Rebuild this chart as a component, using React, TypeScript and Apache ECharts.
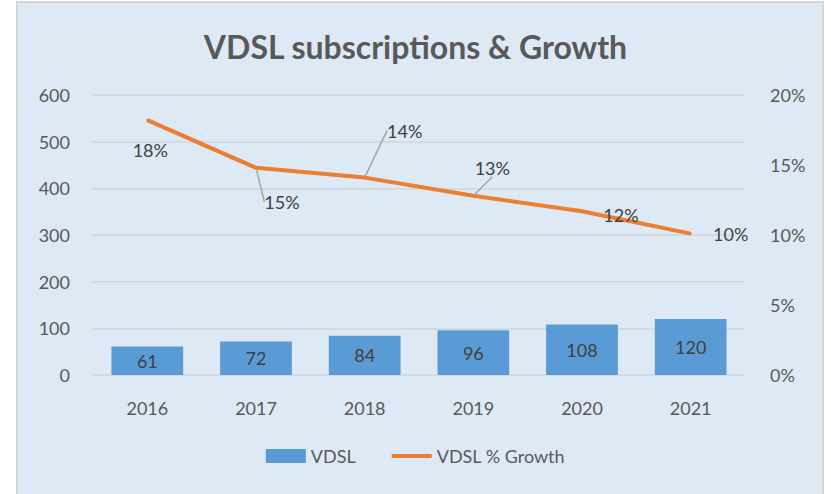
import React, { useEffect, useRef } from "react";
import * as echarts from "echarts";

const years = ["2016", "2017", "2018", "2019", "2020", "2021"];
const vdsl = [61, 72, 84, 96, 108, 120];
const growth = [18.2, 14.8, 14.1, 12.8, 11.7, 10.1];

export default function App() {
  const ref = useRef<HTMLDivElement>(null);
  useEffect(() => {
    if (!ref.current) return;
    const chart = echarts.init(ref.current, null, { renderer: "svg" });
    const labelOffsets = [
      [3, 30],
      [26, 34],
      [40, -47],
      [19, -28],
      [39, 4],
      [40, 0],
    ];
    const showLine = [false, true, true, true, false, false];
    const font = "Lato, 'Open Sans', sans-serif";
    const txt = "#595959";
    chart.setOption({
      animation: false,
      textStyle: { fontFamily: font },
      title: {
        text: "VDSL subscriptions & Growth",
        left: "center",
        top: 25,
        textStyle: { fontSize: 32, fontWeight: "bold", color: txt, fontFamily: font },
      },
      legend: {
        bottom: 24,
        left: "center",
        itemWidth: 40,
        itemHeight: 14,
        itemGap: 34,
        textStyle: { fontSize: 18, color: txt },
        data: [
          { name: "VDSL", icon: "rect" },
          { name: "VDSL % Growth", itemStyle: { opacity: 0 }, lineStyle: { width: 4, color: "#ed7d31" } },
        ],
      },
      grid: { left: 93, right: 86, top: 95, bottom: 119 },
      xAxis: {
        type: "category",
        data: years,
        axisLine: { show: false },
        axisTick: { show: false },
        axisLabel: { fontSize: 18, color: txt, margin: 24 },
      },
      yAxis: [
        {
          type: "value",
          min: 0,
          max: 600,
          interval: 100,
          axisLabel: { fontSize: 18, color: txt, margin: 23 },
          splitLine: { lineStyle: { color: "#d0d5da", width: 1.5 } },
          axisLine: { show: false },
          axisTick: { show: false },
        },
        {
          type: "value",
          min: 0,
          max: 20,
          interval: 5,
          position: "right",
          axisLabel: { fontSize: 18, color: txt, margin: 25, formatter: "{value}%" },
          splitLine: { show: false },
          axisLine: { show: false },
          axisTick: { show: false },
        },
      ],
      series: [
        {
          name: "VDSL",
          type: "bar",
          data: vdsl,
          barWidth: "66%",
          itemStyle: { color: "#5b9bd5" },
          label: { show: true, position: "inside", fontSize: 18, color: "#404040" },
        },
        {
          name: "VDSL % Growth",
          type: "line",
          yAxisIndex: 1,
          data: growth.map((v, i) => ({ value: v, labelLine: { show: showLine[i] } })),
          symbol: "circle",
          symbolSize: 2,
          showSymbol: true,
          lineStyle: { color: "#ed7d31", width: 4 },
          itemStyle: { color: "#ed7d31" },
          label: {
            show: true,
            position: "inside",
            fontSize: 18,
            color: "#404040",
            formatter: (p: any) => Math.round(p.value) + "%",
          },
          labelLine: { show: true, lineStyle: { color: "#a6a6a6", width: 1.5 } },
          labelLayout: (p: any) => ({ dx: labelOffsets[p.dataIndex][0], dy: labelOffsets[p.dataIndex][1] }),
          z: 3,
        },
      ],
    });
    return () => chart.dispose();
  }, []);
  return (
    <div style={{ position: "fixed", left: 0, top: 0, width: 831, height: 494, background: "#fff", overflow: "hidden" }}>
      <div
        style={{
          position: "absolute",
          left: 16,
          top: 1,
          width: 808,
          height: 510,
          background: "#dde9f5",
          border: "2px solid #d6d6d6",
          boxSizing: "border-box",
        }}
      />
      <div ref={ref} style={{ position: "absolute", left: 0, top: 0, width: 831, height: 494 }} />
    </div>
  );
}
